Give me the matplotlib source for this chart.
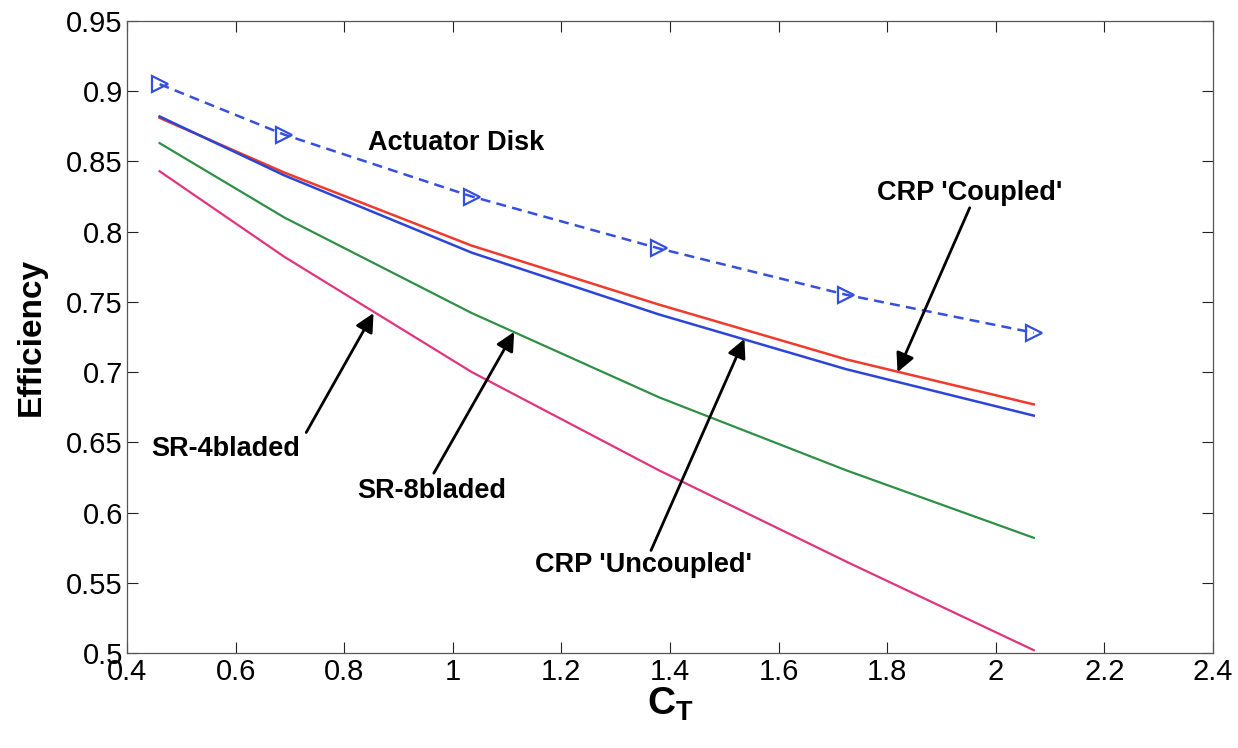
import matplotlib
matplotlib.use("Agg")
import matplotlib.pyplot as plt

plt.rcParams['font.family'] = ['Liberation Sans', 'DejaVu Sans']
plt.rcParams['mathtext.fontset'] = 'custom'
plt.rcParams['mathtext.bf'] = 'Liberation Sans:bold'
plt.rcParams['mathtext.rm'] = 'Liberation Sans'

# thrust coefficient samples
ct = [0.46, 0.69, 1.035, 1.38, 1.725, 2.07]

# efficiency per configuration
actuator_disk = [0.905, 0.869, 0.825, 0.788, 0.755, 0.728]
crp_coupled = [0.881, 0.842, 0.790, 0.748, 0.709, 0.677]
crp_uncoupled = [0.882, 0.840, 0.785, 0.741, 0.702, 0.669]
sr_8bladed = [0.863, 0.810, 0.742, 0.682, 0.630, 0.582]
sr_4bladed = [0.843, 0.782, 0.700, 0.630, 0.565, 0.502]

xticks = [0.4, 0.6, 0.8, 1.0, 1.2, 1.4, 1.6, 1.8, 2.0, 2.2, 2.4]
xtick_labels = ['0.4', '0.6', '0.8', '1', '1.2', '1.4', '1.6', '1.8', '2', '2.2', '2.4']
yticks = [0.5, 0.55, 0.6, 0.65, 0.7, 0.75, 0.8, 0.85, 0.9, 0.95]
ytick_labels = ['0.5', '0.55', '0.6', '0.65', '0.7', '0.75', '0.8', '0.85', '0.9', '0.95']

fig = plt.figure(figsize=(12.38, 7.48), dpi=100)
ax = fig.add_axes([0.1026, 0.127, 0.8772, 0.845])

ax.plot(ct, sr_4bladed, color='#e0357e', lw=1.6)
ax.plot(ct, sr_8bladed, color='#2f8f45', lw=1.6)
ax.plot(ct, crp_coupled, color='#ee3b2e', lw=1.8)
ax.plot(ct, crp_uncoupled, color='#2c44d8', lw=1.8)
ax.plot(ct, actuator_disk, color='#3550dc', lw=1.8, ls=(0, (4, 2.5)),
        marker='>', markersize=12, markerfacecolor='none', markeredgewidth=1.6)

ax.set_xlim(0.4, 2.4)
ax.set_ylim(0.5, 0.95)
ax.set_xticks(xticks)
ax.set_xticklabels(xtick_labels)
ax.set_yticks(yticks)
ax.set_yticklabels(ytick_labels)
ax.tick_params(direction='in', top=True, right=True, length=8, width=0.8,
               labelsize=21, colors='#222222', labelcolor='black')
ax.tick_params(axis='y', pad=3)
for s in ax.spines.values():
    s.set_color('#555555')
    s.set_linewidth(0.9)

ax.set_ylabel('Efficiency', fontsize=24, fontweight='bold', labelpad=14)
ax.set_xlabel(r'$\mathbf{C_T}$', fontsize=28, labelpad=0)

arrow = dict(arrowstyle='-|>', color='black', lw=2, mutation_scale=28,
             shrinkA=0, shrinkB=0)
txt = dict(fontsize=19.5, fontweight='bold', ha='center', va='center')

ax.text(1.006, 0.863, 'Actuator Disk', **txt)

ax.text(1.952, 0.8275, "CRP 'Coupled'", **txt)
ax.annotate('', xy=(1.819, 0.700), xytext=(1.952, 0.817), arrowprops=arrow)

ax.text(1.352, 0.5627, "CRP 'Uncoupled'", **txt)
ax.annotate('', xy=(1.537, 0.7236), xytext=(1.365, 0.573), arrowprops=arrow)

ax.text(0.961, 0.615, 'SR-8bladed', **txt)
ax.annotate('', xy=(1.113, 0.7286), xytext=(0.965, 0.628), arrowprops=arrow)

ax.text(0.581, 0.645, 'SR-4bladed', **txt)
ax.annotate('', xy=(0.854, 0.742), xytext=(0.730, 0.657), arrowprops=arrow)

fig.savefig('out.png', dpi=100)
